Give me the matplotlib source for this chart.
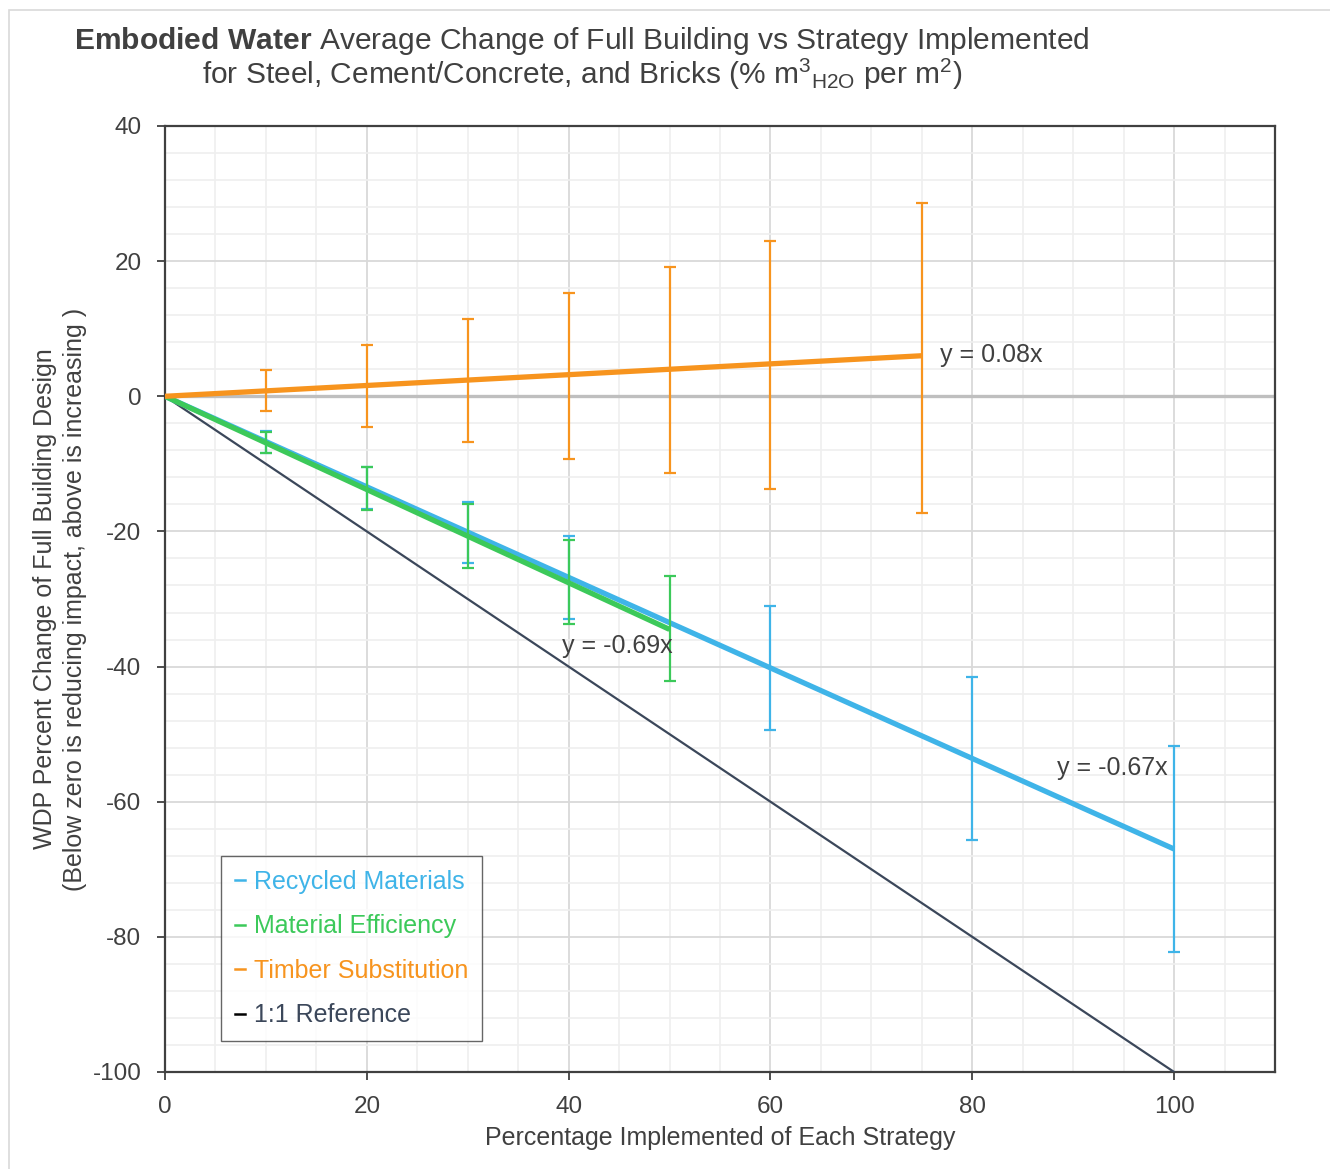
import matplotlib
matplotlib.use("Agg")
import matplotlib.pyplot as plt
from matplotlib.lines import Line2D
from matplotlib.patches import Rectangle
from matplotlib.ticker import MultipleLocator
import numpy as np

plt.rcParams['font.family'] = ['Liberation Sans', 'DejaVu Sans']
plt.rcParams['mathtext.fontset'] = 'custom'
plt.rcParams['mathtext.rm'] = 'Liberation Sans'
plt.rcParams['mathtext.bf'] = 'Liberation Sans:bold'
plt.rcParams['mathtext.it'] = 'Liberation Sans:italic'
plt.rcParams['axes.unicode_minus'] = False

# ---- data ----
x_recycled = [10, 20, 30, 40, 60, 80, 100]
y_recycled = [-6.75, -13.6, -20.2, -26.8, -40.2, -53.6, -67.0]
err_recycled = [1.65, 3.1, 4.5, 6.1, 9.2, 12.1, 15.2]

x_efficiency = [10, 20, 30, 40, 50]
y_efficiency = [-6.85, -13.65, -20.65, -27.5, -34.35]
err_efficiency = [1.55, 3.15, 4.75, 6.2, 7.75]

x_timber = [10, 20, 30, 40, 50, 60, 75]
y_timber = [0.85, 1.55, 2.3, 3.0, 3.85, 4.65, 5.65]
err_timber = [3.05, 6.05, 9.1, 12.3, 15.25, 18.35, 22.95]

series_names = ["Recycled Materials", "Material Efficiency", "Timber Substitution", "1:1 Reference"]
trend_slopes = [-0.67, -0.69, 0.08]
trend_xmax = [100, 50, 75]
reference_slope = -1.0
reference_xmax = 100

x_ticks = [0, 20, 40, 60, 80, 100]
y_ticks = [40, 20, 0, -20, -40, -60, -80, -100]

# ---- style ----
c_blue = '#3fb4e8'
c_green = '#3cc95a'
c_orange = '#f7941e'
c_ref = '#3b475a'
c_text = '#404040'
c_zero = '#bfbfbf'

W, H = 1330, 1169
fig = plt.figure(figsize=(W / 100, H / 100), dpi=100)
fig.patch.set_facecolor('white')

# outer frame of the chart area
fig.add_artist(Rectangle((9 / W, -0.05), 1.1, 1 - 10 / H + 0.05, transform=fig.transFigure,
                         fill=False, edgecolor='#d9d9d9', linewidth=1.2))

ax = fig.add_axes([165 / W, 1 - 1072 / H, (1275 - 165) / W, (1072 - 126) / H])
ax.set_xlim(0, 110)
ax.set_ylim(-100, 40)
ax.set_xticks(x_ticks)
ax.set_yticks(y_ticks)
ax.xaxis.set_minor_locator(MultipleLocator(5))
ax.yaxis.set_minor_locator(MultipleLocator(4))
ax.grid(which='major', color='#d9d9d9', linewidth=1.3, zorder=0)
ax.grid(which='minor', color='#efefef', linewidth=1.2, zorder=0)
ax.set_axisbelow(True)
ax.tick_params(which='minor', length=0)
ax.tick_params(which='major', direction='out', length=6, width=1.3, color=c_text,
               labelsize=17.5, labelcolor=c_text)
ax.tick_params(axis='y', pad=11)
ax.tick_params(axis='x', pad=11)
for s in ax.spines.values():
    s.set_color(c_text)
    s.set_linewidth(1.6)

# zero line
ax.axhline(0, color=c_zero, linewidth=2.4, zorder=2)

# 1:1 reference line
xr = np.array([0, reference_xmax])
ax.plot(xr, reference_slope * xr, color=c_ref, linewidth=1.6, zorder=3)

err_kw = dict(fmt='none', elinewidth=1.6, capsize=4, capthick=1.6)

# recycled materials
xt = np.array([0, trend_xmax[0]])
ax.plot(xt, trend_slopes[0] * xt, color=c_blue, linewidth=3.8, zorder=4, solid_capstyle='butt')
ax.errorbar(x_recycled, y_recycled, yerr=err_recycled, ecolor=c_blue, zorder=5, **err_kw)

# material efficiency
xt = np.array([0, trend_xmax[1]])
ax.plot(xt, trend_slopes[1] * xt, color=c_green, linewidth=3.8, zorder=6, solid_capstyle='butt')
ax.errorbar(x_efficiency, y_efficiency, yerr=err_efficiency, ecolor=c_green, zorder=7, **err_kw)

# timber substitution
xt = np.array([0, trend_xmax[2]])
ax.plot(xt, trend_slopes[2] * xt, color=c_orange, linewidth=3.8, zorder=8, solid_capstyle='butt')
ax.errorbar(x_timber, y_timber, yerr=err_timber, ecolor=c_orange, zorder=9, **err_kw)

# trendline equations
ax.text(76.8, 6.1, f"y = {trend_slopes[2]:.2f}x", fontsize=18, color=c_text,
        ha='left', va='center', zorder=10)
ax.text(39.3, -37.0, f"y = {trend_slopes[1]:.2f}x", fontsize=18, color=c_text,
        ha='left', va='center', zorder=10)
ax.text(88.4, -55.0, f"y = {trend_slopes[0]:.2f}x", fontsize=18, color=c_text,
        ha='left', va='center', zorder=10)

# axis labels
ax.set_xlabel("Percentage Implemented of Each Strategy", fontsize=18, color=c_text, labelpad=6)
fig.text(45 / W, 1 - 599 / H, "WDP Percent Change of Full Building Design",
         rotation=90, ha='center', va='center', fontsize=18, color=c_text)
fig.text(75 / W, 1 - 599 / H, "(Below zero is reducing impact, above is increasing )",
         rotation=90, ha='center', va='center', fontsize=18, color=c_text)

# title
fig.text(582 / W, 1 - 41 / H,
         r"$\bf{Embodied\ Water}$ Average Change of Full Building vs Strategy Implemented",
         ha='center', va='center', fontsize=21.6, color=c_text)
fig.text(582 / W, 1 - 74 / H,
         r"for Steel, Cement/Concrete, and Bricks (% m$^{3}$$_{\rm H2O}$ per m$^{2}$)",
         ha='center', va='center', fontsize=21.5, color=c_text)

# legend
handles = [Line2D([], [], color=c, linewidth=1.8) for c in (c_blue, c_green, c_orange, 'black')]
leg = fig.legend(handles, series_names, loc='upper left',
                 bbox_to_anchor=(221 / W, 1 - 856 / H), borderaxespad=0,
                 fontsize=18, handlelength=0.4, handletextpad=0.35,
                 labelspacing=0.82, borderpad=0.55, frameon=True, fancybox=False)
leg.get_frame().set_edgecolor(c_text)
leg.get_frame().set_linewidth(1.0)
for t, c in zip(leg.get_texts(), (c_blue, c_green, c_orange, c_ref)):
    t.set_color(c)

fig.savefig("out.png", dpi=100)
